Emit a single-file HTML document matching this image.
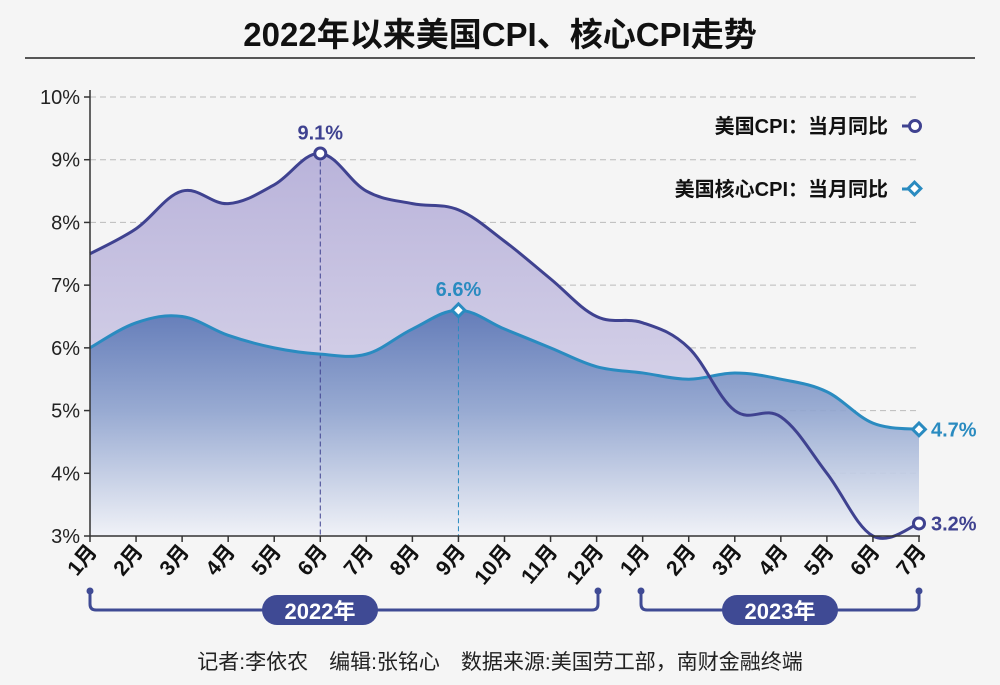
<!DOCTYPE html>
<html><head><meta charset="utf-8"><style>
body{margin:0;background:#f5f5f5;}
svg{display:block;font-family:"Liberation Sans","Noto Sans CJK SC",sans-serif;}
</style></head><body>
<svg id="c" width="1000" height="685" viewBox="0 0 1000 685">
<defs>
<linearGradient id="gcpi" x1="0" y1="0" x2="0" y2="1"><stop offset="0" stop-color="#b9b3da"/><stop offset="1" stop-color="#e6e4f1"/></linearGradient>
<linearGradient id="gcore" gradientUnits="userSpaceOnUse" x1="0" y1="310" x2="0" y2="536"><stop offset="0" stop-color="#5b76b5"/><stop offset="0.45" stop-color="#93a7d0"/><stop offset="1" stop-color="#f1f3f8"/></linearGradient>
</defs>
<text x="500" y="46" text-anchor="middle" font-size="33" font-weight="bold" fill="#111">2022年以来美国CPI、核心CPI走势</text>
<line x1="25" y1="58" x2="975" y2="58" stroke="#222" stroke-width="1.5"/>
<g id="grid"></g><g id="areas"></g><g id="lines"></g><g id="axes"></g>
<g>
<text x="888" y="133" text-anchor="end" font-size="20" font-weight="bold" fill="#111">美国CPI：当月同比</text>
<line x1="902" y1="126" x2="910" y2="126" stroke="#3f4290" stroke-width="3"/>
<circle cx="915" cy="126" r="5.5" fill="#fff" stroke="#3f4290" stroke-width="3"/>
<text x="888" y="196" text-anchor="end" font-size="20" font-weight="bold" fill="#111">美国核心CPI：当月同比</text>
<line x1="902" y1="189" x2="909" y2="189" stroke="#2a8bc0" stroke-width="3"/>
<rect x="910" y="184" width="9" height="9" transform="rotate(45 914.5 188.5)" fill="#fff" stroke="#2a8bc0" stroke-width="3"/>
</g>
<g>
<path d="M90 592 V604 Q90 610 96 610 H592 Q598 610 598 604 V592" fill="none" stroke="#3f4a94" stroke-width="3"/>
<circle cx="90" cy="591" r="3.5" fill="#3f4a94"/><circle cx="598" cy="591" r="3.5" fill="#3f4a94"/>
<rect x="262" y="595" width="116" height="30" rx="15" fill="#3f4a94"/>
<text x="320" y="619" text-anchor="middle" font-size="22" font-weight="bold" fill="#fff">2022年</text>
<path d="M641 592 V604 Q641 610 647 610 H913 Q919 610 919 604 V592" fill="none" stroke="#3f4a94" stroke-width="3"/>
<circle cx="641" cy="591" r="3.5" fill="#3f4a94"/><circle cx="919" cy="591" r="3.5" fill="#3f4a94"/>
<rect x="722" y="595" width="116" height="30" rx="15" fill="#3f4a94"/>
<text x="780" y="619" text-anchor="middle" font-size="22" font-weight="bold" fill="#fff">2023年</text>
</g>
<text x="500" y="669" text-anchor="middle" font-size="21" fill="#222">记者:李依农　编辑:张铭心　数据来源:美国劳工部，南财金融终端</text>
</svg>
<script>
const months=["1月","2月","3月","4月","5月","6月","7月","8月","9月","10月","11月","12月","1月","2月","3月","4月","5月","6月","7月"];
const cpi=[7.5,7.9,8.5,8.3,8.6,9.1,8.5,8.3,8.2,7.7,7.1,6.5,6.4,6.0,5.0,4.9,4.0,3.0,3.2];
const core=[6.0,6.4,6.5,6.2,6.0,5.9,5.9,6.3,6.6,6.3,6.0,5.7,5.6,5.5,5.6,5.5,5.3,4.8,4.7];
const yTicks=[3,4,5,6,7,8,9,10];
const NS="http://www.w3.org/2000/svg";
const X=i=>90+i*(919-90)/(months.length-1);
const Y=v=>536-(v-3)*(536-97)/7;
function mk(p,t,a){const e=document.createElementNS(NS,t);for(const k in a)e.setAttribute(k,a[k]);document.getElementById(p).appendChild(e);return e;}
function smooth(vals){let pts=vals.map((v,i)=>[X(i),Y(v)]);let d="M"+pts[0];for(let i=0;i<pts.length-1;i++){const p0=pts[Math.max(0,i-1)],p1=pts[i],p2=pts[i+1],p3=pts[Math.min(pts.length-1,i+2)];const t=0.18;d+=" C"+(p1[0]+(p2[0]-p0[0])*t)+","+(p1[1]+(p2[1]-p0[1])*t)+" "+(p2[0]-(p3[0]-p1[0])*t)+","+(p2[1]-(p3[1]-p1[1])*t)+" "+p2[0]+","+p2[1];}return d;}
yTicks.forEach(v=>{
 if(v>3){const g=mk("grid","line",{x1:90,x2:920,y1:Y(v),y2:Y(v),stroke:"#bbb","stroke-dasharray":"6 4"});
 
 }
 const t=mk("axes","text",{x:80,y:Y(v)+7,"text-anchor":"end","font-size":"20",fill:"#222"});t.textContent=v+"%";
 
 
 const tk=mk("axes","line",{x1:84,x2:90,y1:Y(v),y2:Y(v),stroke:"#333","stroke-width":1.5});
 
 
});
const bottom=" L"+X(months.length-1)+",536 L90,536 Z";
const a1=mk("areas","path",{d:smooth(cpi)+bottom,fill:"url(#gcpi)"});


const a2=mk("areas","path",{d:smooth(core)+bottom,fill:"url(#gcore)",opacity:0.92});


const pk=cpi.indexOf(Math.max(...cpi)), pc=8;
const d1=mk("lines","line",{x1:X(pk),x2:X(pk),y1:Y(cpi[pk]),y2:536,stroke:"#3f4290","stroke-dasharray":"5 3"});


const d2=mk("lines","line",{x1:X(pc),x2:X(pc),y1:Y(core[pc]),y2:536,stroke:"#2a8bc0","stroke-dasharray":"5 3"});


const l2=mk("lines","path",{d:smooth(core),fill:"none",stroke:"#2a8bc0","stroke-width":3});


const l1=mk("lines","path",{d:smooth(cpi),fill:"none",stroke:"#3f4290","stroke-width":3});


function circ(i,nm){const c=mk("lines","circle",{cx:X(i),cy:Y(cpi[i]),r:5.5,fill:"#fff",stroke:"#3f4290","stroke-width":3});}
function dia(i,nm){const x=X(i),y=Y(core[i]);const r=mk("lines","rect",{x:x-4.5,y:y-4.5,width:9,height:9,transform:"rotate(45 "+x+" "+y+")",fill:"#fff",stroke:"#2a8bc0","stroke-width":3});}
circ(pk,'cpi-peak-marker');circ(cpi.length-1,'cpi-last-marker');dia(pc,'core-peak-marker');dia(core.length-1,'core-last-marker');
function lab(x,y,s,col,anchor,nm){const t=mk("lines","text",{x:x,y:y,"text-anchor":anchor,"font-size":"20","font-weight":"bold",fill:col});t.textContent=s;}
lab(X(pk),Y(cpi[pk])-14,cpi[pk].toFixed(1)+"%","#3f4290","middle",'cpi-peak-label');
lab(X(pc),Y(core[pc])-14,core[pc].toFixed(1)+"%","#2a8bc0","middle",'core-peak-label');
lab(X(cpi.length-1)+12,Y(cpi[cpi.length-1])+7,cpi[cpi.length-1].toFixed(1)+"%","#3f4290","start",'cpi-last-label');
lab(X(core.length-1)+12,Y(core[core.length-1])+7,core[core.length-1].toFixed(1)+"%","#2a8bc0","start",'core-last-label');
const ya=mk("axes","line",{x1:90,x2:90,y1:90,y2:536,stroke:"#333","stroke-width":1.5});

const xa=mk("axes","line",{x1:90,x2:920,y1:536,y2:536,stroke:"#333","stroke-width":1.5});

months.forEach((m,i)=>{
 const tk=mk("axes","line",{x1:X(i),x2:X(i),y1:536,y2:542,stroke:"#333","stroke-width":1.5});
 
 const t=mk("axes","text",{x:X(i)+8,y:552,"text-anchor":"end","font-size":"21","font-weight":"bold",fill:"#111",transform:"rotate(-50 "+(X(i)+8)+" 552)"});
 t.textContent=m;
 
 
});
</script>
</body></html>
